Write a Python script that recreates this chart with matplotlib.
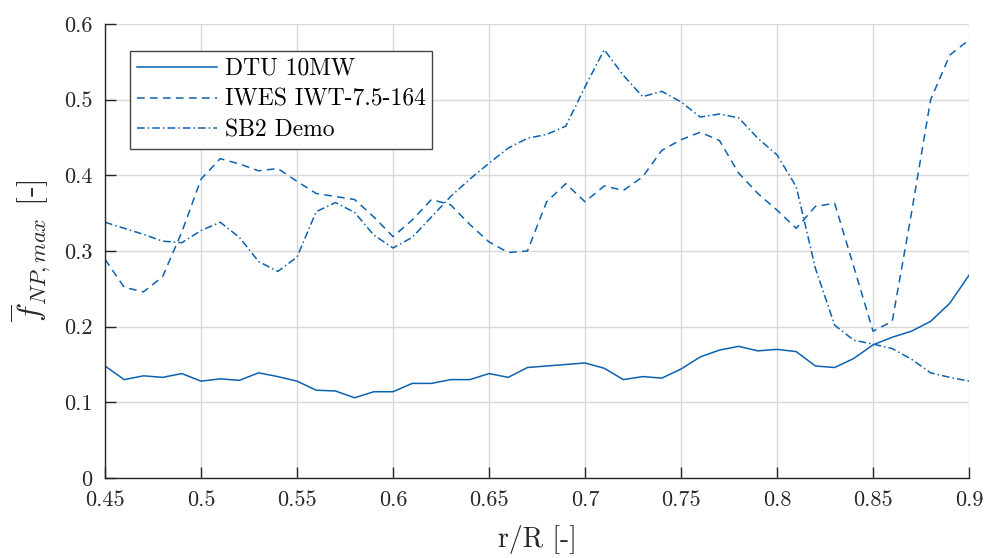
import matplotlib
matplotlib.use('Agg')
import matplotlib.pyplot as plt
import numpy as np

# r/R stations
r_R = [0.45, 0.46, 0.47, 0.48, 0.49, 0.50, 0.51, 0.52, 0.53, 0.54,
       0.55, 0.56, 0.57, 0.58, 0.59, 0.60, 0.61, 0.62, 0.63, 0.64,
       0.65, 0.66, 0.67, 0.68, 0.69, 0.70, 0.71, 0.72, 0.73, 0.74,
       0.75, 0.76, 0.77, 0.78, 0.79, 0.80, 0.81, 0.82, 0.83, 0.84,
       0.85, 0.86, 0.87, 0.88, 0.89, 0.90]

dtu_10mw = [0.148, 0.130, 0.135, 0.133, 0.138, 0.128, 0.131, 0.129, 0.139, 0.134,
            0.128, 0.116, 0.115, 0.106, 0.114, 0.114, 0.125, 0.125, 0.130, 0.130,
            0.138, 0.133, 0.146, 0.148, 0.150, 0.152, 0.145, 0.130, 0.134, 0.132,
            0.144, 0.160, 0.169, 0.174, 0.168, 0.170, 0.167, 0.148, 0.146, 0.158,
            0.176, 0.186, 0.194, 0.207, 0.231, 0.268]

iwes_iwt = [0.289, 0.252, 0.246, 0.266, 0.325, 0.395, 0.422, 0.415, 0.406, 0.409,
            0.392, 0.376, 0.372, 0.368, 0.345, 0.319, 0.341, 0.368, 0.361, 0.335,
            0.312, 0.298, 0.300, 0.365, 0.389, 0.365, 0.386, 0.380, 0.398, 0.433,
            0.447, 0.457, 0.446, 0.403, 0.376, 0.354, 0.330, 0.359, 0.363, 0.279,
            0.194, 0.207, 0.350, 0.500, 0.559, 0.579]

sb2_demo = [0.338, 0.330, 0.322, 0.313, 0.311, 0.327, 0.338, 0.318, 0.286, 0.273,
            0.292, 0.352, 0.364, 0.351, 0.321, 0.304, 0.318, 0.345, 0.372, 0.395,
            0.416, 0.436, 0.449, 0.454, 0.465, 0.517, 0.566, 0.532, 0.504, 0.511,
            0.497, 0.477, 0.481, 0.476, 0.449, 0.427, 0.385, 0.277, 0.202, 0.182,
            0.177, 0.171, 0.157, 0.139, 0.133, 0.128]

xticks = [0.45, 0.5, 0.55, 0.6, 0.65, 0.7, 0.75, 0.8, 0.85, 0.9]
xtick_labels = ['0.45', '0.5', '0.55', '0.6', '0.65', '0.7', '0.75', '0.8', '0.85', '0.9']
yticks = [0, 0.1, 0.2, 0.3, 0.4, 0.5, 0.6]
ytick_labels = ['0', '0.1', '0.2', '0.3', '0.4', '0.5', '0.6']

plt.rcParams['font.family'] = ['cmr10', 'DejaVu Serif']
plt.rcParams['mathtext.fontset'] = 'cm'
plt.rcParams['axes.formatter.use_mathtext'] = True

color = '#0b62b0'
dark = '#262626'

fig = plt.figure(figsize=(9.87, 5.58), dpi=100)
ax = fig.add_axes([0.1064, 0.1434, 0.8754, 0.8136])

ax.plot(r_R, dtu_10mw, color=color, lw=1.1, linestyle='-', label='DTU 10MW')
ax.plot(r_R, iwes_iwt, color=color, lw=1.1, linestyle=(0, (5, 3.5)), label='IWES IWT-7.5-164')
ax.plot(r_R, sb2_demo, color=color, lw=1.1, linestyle=(0, (5, 2, 1, 2)), label='SB2 Demo')

ax.set_xlim(0.45, 0.9)
ax.set_ylim(0, 0.6)
ax.set_xticks(xticks)
ax.set_xticklabels(xtick_labels)
ax.set_yticks(yticks)
ax.set_yticklabels(ytick_labels)

ax.grid(True, color='#d9d9d9', linewidth=1)
ax.set_axisbelow(True)
for s in ['top', 'right']:
    ax.spines[s].set_visible(False)
for s in ['left', 'bottom']:
    ax.spines[s].set_color(dark)
    ax.spines[s].set_linewidth(1)
ax.tick_params(direction='in', length=8, width=1, color=dark,
               labelsize=16, labelcolor=dark, pad=9)

ax.set_xlabel('r/R [-]', fontsize=20, color=dark, labelpad=11)
ax.set_ylabel(r'$\overline{f}_{NP,max}$ [-]', fontsize=23, color=dark, labelpad=8)

leg = ax.legend(loc='upper left', bbox_to_anchor=(0.029, 0.941), fontsize=17,
                handlelength=3.4, fancybox=False, framealpha=1,
                edgecolor='#444444', borderpad=0.3, labelspacing=0.37,
                handletextpad=0.3, borderaxespad=0)
leg.get_frame().set_linewidth(1)

fig.savefig('out.png', dpi=100)
